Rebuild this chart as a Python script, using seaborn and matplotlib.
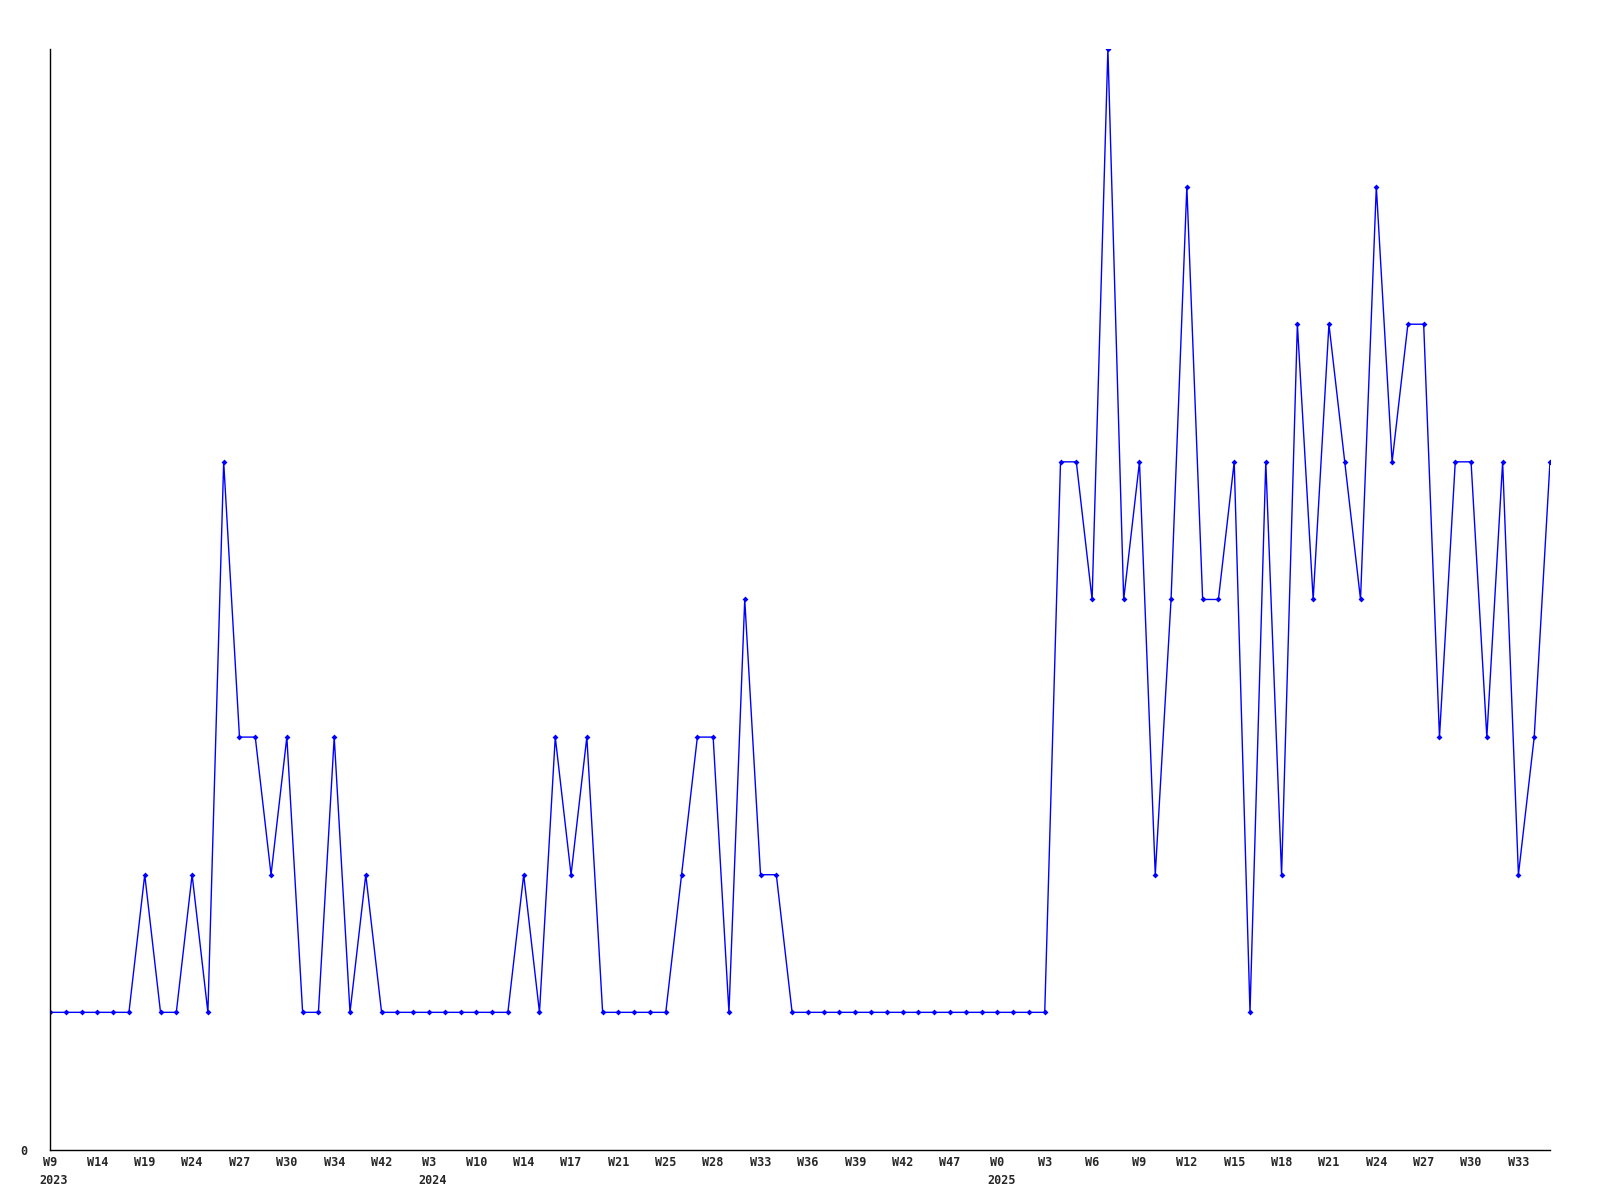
import matplotlib
matplotlib.use('Agg')
import matplotlib.pyplot as plt
import seaborn as sns
import numpy as np
import pandas as pd

# weekly counts, one per point
values = [1, 1, 1, 1, 1, 1, 2, 1, 1, 2, 1, 5, 3, 3, 2, 3, 1, 1, 3, 1,
          2, 1, 1, 1, 1, 1, 1, 1, 1, 1, 2, 1, 3, 2, 3, 1, 1, 1, 1, 1,
          2, 3, 3, 1, 4, 2, 2, 1, 1, 1, 1, 1, 1, 1, 1, 1, 1, 1, 1, 1,
          1, 1, 1, 1, 5, 5, 4, 8, 4, 5, 2, 4, 7, 4, 4, 5, 1, 5, 2, 6,
          4, 6, 5, 4, 7, 5, 6, 6, 3, 5, 5, 3, 5, 2, 3, 5]

# labels shown every third point
week_labels = ['W9', 'W14', 'W19', 'W24', 'W27', 'W30', 'W34', 'W42',
               'W3', 'W10', 'W14', 'W17', 'W21', 'W25', 'W28', 'W33',
               'W36', 'W39', 'W42', 'W47', 'W0', 'W3', 'W6', 'W9',
               'W12', 'W15', 'W18', 'W21', 'W24', 'W27', 'W30', 'W33']
label_step = 3

years = ['2023', '2024', '2025']
year_points = [0, 24, 60]

sns.set_style('white')
plt.rcParams['font.family'] = ['DejaVu Sans Mono']
plt.rcParams['font.weight'] = 'bold'

df = pd.DataFrame({'idx': np.arange(len(values)), 'n': values})

fig = plt.figure(figsize=(16, 12), dpi=100)
ax = fig.add_axes([0.03125, 0.0417, 0.9375, 0.9175])

sns.lineplot(data=df, x='idx', y='n', ax=ax, color='#0000ff', linewidth=1,
             marker='D', markersize=3, markeredgewidth=0)

ax.set_xlim(0, len(values) - 1)
ax.set_ylim(0, max(values))

tick_pos = np.arange(len(week_labels)) * label_step
ax.set_xticks(tick_pos)
ax.set_xticklabels(week_labels, fontsize=8.5, fontweight='bold')
ax.set_yticks([0])
ax.set_yticklabels(['0'], fontsize=8.5, fontweight='bold')
ax.tick_params(axis='x', length=0, pad=4)
ax.tick_params(axis='y', length=0, pad=16)

for yr, p in zip(years, year_points):
    ax.annotate(yr, xy=(p, 0), xycoords=('data', 'axes fraction'),
                xytext=(-7.5, -17), textcoords='offset points',
                ha='left', va='top', fontsize=8.5, fontweight='bold')

ax.set_xlabel('')
ax.set_ylabel('')
for s in ['top', 'right']:
    ax.spines[s].set_visible(False)
for s in ['left', 'bottom']:
    ax.spines[s].set_color('black')
    ax.spines[s].set_linewidth(1)

fig.savefig('out.png', dpi=100, facecolor='white')
plt.close(fig)
